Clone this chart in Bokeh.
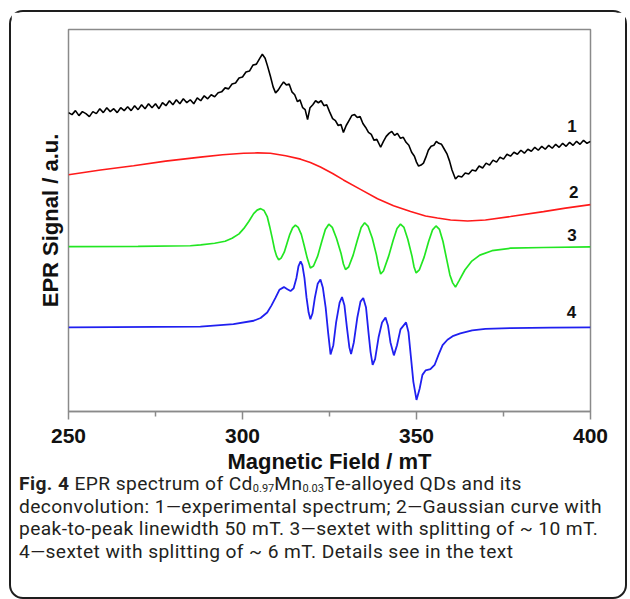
import math
from bokeh.plotting import figure
from bokeh.models import Range1d, FixedTicker, Title, Div
from bokeh.layouts import column
from bokeh.embed import file_html
from bokeh.resources import INLINE
from bokeh.core.properties import value

# ---------------- data (field in mT, signal in arbitrary units) ----------------
field_exp = [250, 251, 252, 253, 254, 255, 256, 257, 258, 259, 260, 261, 262, 263, 264,
             265, 266, 267, 268, 269, 270, 271, 272, 273, 274, 275, 276, 277, 278, 279,
             280, 281, 282, 283, 284, 285, 286, 287, 288, 289, 290, 291, 292, 293, 294,
             295, 296, 297, 298, 299, 300, 301, 302, 303, 304, 305,
             305.7, 306.5, 307.2, 308, 308.8, 309.5, 310.3, 311, 311.8, 312.6, 313.4, 314.2,
             315, 315.8, 316.5, 317.3, 318, 318.7, 319.4, 320.2, 321, 321.8, 322.6, 323.4,
             324.2, 325, 325.9, 326.7, 327.5, 328.3, 329, 329.8, 330.6, 331.4, 332.2, 333,
             333.8, 334.6, 335.4, 336.2, 337, 337.8, 338.6, 339.7, 340.5, 341.3, 342.1, 342.9,
             343.7, 344.5, 345.4, 346.2, 347, 347.8, 348.6, 349.4, 350, 350.6, 351.3, 352,
             352.7, 353.4, 354.2, 355, 355.7, 356.4, 357.2, 358, 358.8, 359.5, 360.2, 361.2,
             362, 363, 364, 365, 366, 367, 368, 369, 370, 371, 372, 373, 374, 375, 376, 377,
             378, 379, 380, 381, 382, 383, 384, 385, 386, 387, 388, 389, 390, 391, 392, 393,
             394, 395, 396, 397, 398, 399, 400]
signal_exp = [302, 300, 304, 299, 303, 301, 298, 303, 301, 306, 302, 307, 303, 306, 302,
              307, 304, 308, 304, 309, 305, 310, 306, 311, 307, 311, 306, 312, 309, 314,
              310, 315, 311, 316, 312, 315, 311, 317, 314, 319, 316, 320, 318, 322, 323,
              327, 326, 331, 332, 337, 338, 343, 344, 350, 351, 357,
              361, 357, 349, 339, 328, 322, 325, 329, 333, 330, 331, 323,
              320, 313, 315, 307, 305, 295, 307, 310, 314, 312, 314, 309,
              310, 303, 296, 294, 289, 290, 282, 289, 294, 299, 300, 297,
              298, 291, 287, 282, 280, 274, 275, 267, 273, 278, 281, 283,
              279, 281, 276, 277, 272, 269, 262, 258, 252, 248, 249, 251,
              257, 264, 268, 269, 273, 271, 270, 265, 260, 253, 244, 235,
              238, 237, 241, 240, 244, 243, 248, 246, 251, 249, 254, 252, 257, 255, 260, 258,
              262, 260, 264, 261, 265, 263, 267, 264, 268, 265, 269, 266, 270, 267, 271, 268,
              272, 269, 273, 270, 274, 271, 273]

field_gauss = [250, 259.2, 268.7, 277.9, 287.9, 294.3, 300.3, 304.3, 308, 312.4, 316.7,
               319.5, 322.4, 325.9, 329, 333.9, 338.8, 343.4, 348.3, 352.6, 356, 359.8,
               364.7, 369.8, 377, 386.5, 392.8, 400]
signal_gauss = [239.3, 244, 248.3, 253, 257, 259.5, 261, 261.3, 261, 258.5, 255,
                251.7, 247, 240.5, 234, 224.5, 215, 208, 202, 197.5, 195.5, 193.5,
                192.5, 193.5, 197, 202, 205.5, 209]

field_sext10 = [250, 270, 285, 288, 292, 295, 297, 299, 300.4, 301.8, 303.2, 304.2, 305.2,
                306.2, 307.1, 307.8, 308.5, 309.2, 309.8, 310.4, 311.1, 312, 312.8, 313.6,
                314.4, 315.2, 316, 316.9, 317.7, 318.6, 319.5, 320.4, 321.6, 322.8, 323.8,
                324.8, 325.8, 327, 328.3, 329, 329.6, 330.5, 331.8, 333, 334.1, 335.1,
                336.1, 337.3, 338.5, 339.1, 339.7, 340.5, 342, 343.3, 344.4, 345.4, 346.4,
                347.5, 348.7, 349.3, 349.9, 350.8, 352.2, 353.5, 354.6, 355.6, 356.6, 357.6,
                358.6, 359.6, 360.4, 361.2, 362.2, 363.9, 365.9, 368.2, 371.7, 377, 386.5, 400]
signal_sext10 = [166.7, 166.8, 167.5, 168.3, 170, 172, 175, 179.5, 185, 192, 200, 203.5, 205,
                 203, 197, 187, 176, 164, 157, 153.3, 155, 161, 170, 179,
                 185.5, 188.3, 186, 179, 168, 155, 145, 147, 157, 172, 184,
                 189.3, 186, 175, 160, 149, 143.5, 146, 158, 173, 186, 190.7,
                 187, 175, 158, 147, 139, 142, 157, 173, 185, 189.3, 186,
                 174, 157, 146, 140, 143, 156, 172, 183.5, 187.5, 184, 172,
                 155, 138, 130, 125.7, 132, 143, 152, 158, 162.5, 165, 165.7, 166.3]

field_sext6 = [250, 287.9, 297.4, 303.2, 305.2, 307.1, 308.3, 309.5, 310.6, 311.9, 312.9,
               313.8, 314.7, 315.5, 316.1, 316.7, 317.2, 317.8, 318.4, 319, 319.5, 320.1,
               320.8, 321.6, 322.4, 323.1, 323.9, 324.6, 325.3, 326.1, 326.9, 327.9, 328.6,
               329.3, 330, 330.7, 331.2, 332, 333, 333.9, 334.7, 335.5, 336.2, 336.8, 337.4,
               338.1, 339.1, 340.1, 341.1, 341.8, 342.5, 343.5, 344.4, 345.4, 347, 347.7,
               348.4, 349.1, 350, 350.9, 351.7, 352.6, 354, 355.2, 356.4, 357.5, 358.9,
               360.6, 362.6, 366, 369.8, 377, 388.5, 400]
signal_sext6 = [85, 85.7, 88.3, 91.7, 94.5, 100, 107, 115, 123, 125.7, 123.5,
                121.7, 124.5, 135, 147, 151.7, 148, 135, 115, 100, 93.3, 99,
                115, 129, 133.3, 125, 105, 80, 57.7, 67, 90, 110, 115.7,
                107, 85, 65, 58, 70, 95, 111, 114.7, 105, 80, 60, 47.2,
                53, 75, 90, 95, 87, 70, 56.7, 67, 83, 90, 80,
                55, 30, 11.7, 23, 37, 41.5, 42.7, 47, 58, 67, 72.5,
                76.5, 79, 82, 83.5, 84.3, 84.7, 85]

curve_ids = ["1", "2", "3", "4"]
curve_id_field = [394.7, 395.2, 394.7, 394.5]
curve_id_signal = [288, 222, 178, 101]

x_ticks = [250, 300, 350, 400]
x_minor_ticks = [275, 325, 375]
x_title = "Magnetic Field / mT"
y_title = "EPR Signal / a.u."

caption_lines = [
    '<b>Fig. 4</b> EPR spectrum of Cd<span class="s">0.97</span>Mn<span class="s">0.03</span>Te-alloyed QDs and its',
    'deconvolution: 1\u2014experimental spectrum; 2\u2014Gaussian curve with',
    'peak-to-peak linewidth 50 mT. 3\u2014sextet with splitting of ~ 10 mT.',
    '4\u2014sextet with splitting of ~ 6 mT. Details see in the text',
]

# ---------------- figure ----------------
GRAY = "#8a8a8a"
p = figure(width=614, height=464, x_range=Range1d(250, 400), y_range=Range1d(0, 386),
           output_backend="svg", toolbar_location=None,
           min_border_left=57, min_border_right=35, min_border_top=17, min_border_bottom=61)
p.grid.visible = False
p.outline_line_color = GRAY
p.outline_line_width = 1.5

p.line(field_exp, signal_exp, line_color="#000000", line_width=1.6)
p.line(field_gauss, signal_gauss, line_color="#ff1a1a", line_width=1.6)
p.line(field_sext10, signal_sext10, line_color="#22e622", line_width=1.7)
p.line(field_sext6, signal_sext6, line_color="#2020f0", line_width=1.8)

p.text(x=curve_id_field, y=curve_id_signal, text=curve_ids, text_align="center",
       text_baseline="middle", text_font=value("Liberation Sans"), text_font_style="bold",
       text_font_size="17px", text_color="#111111")

xa = p.xaxis[0]
xa.ticker = FixedTicker(ticks=x_ticks, minor_ticks=x_minor_ticks)
xa.axis_line_color = GRAY
xa.axis_line_width = 1.5
xa.major_tick_line_color = GRAY
xa.minor_tick_line_color = GRAY
xa.major_tick_line_width = 1.5
xa.minor_tick_line_width = 1.5
xa.major_tick_in = 0
xa.major_tick_out = 8
xa.minor_tick_in = 0
xa.minor_tick_out = 5
xa.major_label_text_font = "Liberation Sans"
xa.major_label_text_font_style = "bold"
xa.major_label_text_font_size = "21px"
xa.major_label_text_color = "#111111"
xa.major_label_standoff = 9
xa.axis_label = x_title
xa.axis_label_text_font = "Liberation Sans"
xa.axis_label_text_font_style = "bold"
xa.axis_label_text_font_size = "22px"
xa.axis_label_text_color = "#111111"
xa.axis_label_standoff = 3

p.yaxis.visible = False
p.add_layout(Title(text=y_title, align="center", offset=14, standoff=11,
                   text_font="Liberation Sans", text_font_style="bold",
                   text_font_size="22px", text_color="#111111"), "left")

line_divs = ''.join('<div class="ln">' + t + '</div>' for t in caption_lines)
cap_html = ('<style>'
            '.cap{font-family:Roboto;font-size:19.2px;letter-spacing:0.4px;color:#231f20;white-space:nowrap;}'
            '.ln{height:22.5px;line-height:22.5px;}'
            '.s{font-size:11px;position:relative;top:2px;letter-spacing:0;}'
            '</style><div class="cap">' + line_divs + '</div>')
cap = Div(text=cap_html, width=600, height=124, margin=(-3, 0, 0, 8))

layout = column(p, cap, margin=(10, 0, 0, 9),
                styles={"border": "2px solid #1e1e1e", "border-radius": "14px"})

open("out.html", "w").write(file_html(layout, INLINE))
